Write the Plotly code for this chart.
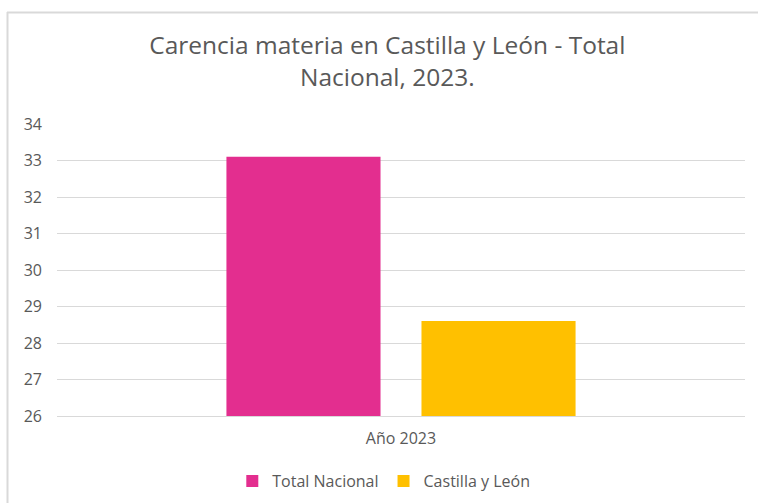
import plotly.graph_objects as go

categories = ["Año 2023"]
series_names = ["Total Nacional", "Castilla y León"]
total_nacional = [33.1]
castilla_leon = [28.6]
y_ticks = [26, 27, 28, 29, 30, 31, 32, 33, 34]

colors = ["#E32E8F", "#FFC000"]
font_family = "Open Sans, Liberation Sans, sans-serif"
grey = "#595959"

fig = go.Figure()
for name, vals, col in zip(series_names, [total_nacional, castilla_leon], colors):
    fig.add_trace(go.Bar(x=categories, y=vals, name=name, marker=dict(color=col, line=dict(width=0))))

W, H = 758, 503
L, R, T, B = 57, 13, 124, 87
pw = W - L - R
ph = H - T - B

def px_x(v):
    return (v - L) / pw

def px_y(v):
    return (H - B - v) / ph

border = dict(color="#d9d9d9", width=2)

fig.update_layout(
    width=W, height=H,
    margin=dict(l=L, r=R, t=T, b=B, autoexpand=False),
    paper_bgcolor="white", plot_bgcolor="white",
    barmode="group", bargap=0.433, bargroupgap=0.21,
    title=dict(
        text="Carencia materia en Castilla y León - Total<br>Nacional, 2023.",
        x=0.511, xanchor="center", y=0.892, yanchor="bottom",
        font=dict(family=font_family, size=24.5, color=grey),
    ),
    font=dict(family=font_family, size=16, color=grey),
    showlegend=True,
    legend=dict(orientation="h", x=0.475, xanchor="center", y=px_y(481), yanchor="middle",
                font=dict(size=16, color=grey), traceorder="normal", itemwidth=30),
    xaxis=dict(showgrid=False, showline=True, linecolor="#d9d9d9", linewidth=1, automargin=False,
               tickfont=dict(size=16, color=grey), ticks="", ticklabelstandoff=8),
    yaxis=dict(range=[26, 34], tickvals=y_ticks, showgrid=True, gridcolor="#d9d9d9", gridwidth=1,
               zeroline=False, showline=False, ticks="", automargin=False,
               tickfont=dict(size=16, color=grey), ticklabelstandoff=14),
    shapes=[
        dict(type="line", xref="paper", yref="paper", x0=px_x(7), x1=px_x(W),
             y0=px_y(12.5), y1=px_y(12.5), line=border, layer="below"),
        dict(type="line", xref="paper", yref="paper", x0=px_x(7.5), x1=px_x(7.5),
             y0=px_y(12), y1=px_y(H), line=border, layer="below"),
    ],
)

post = (
    "document.documentElement.style.cssText='margin:0;padding:0;overflow:hidden;height:503px;width:758px';"
    "document.body.style.cssText='margin:0;padding:0;overflow:hidden;height:503px;width:758px';"
)
fig.write_html("out.html", config={"displayModeBar": False}, post_script=post)
